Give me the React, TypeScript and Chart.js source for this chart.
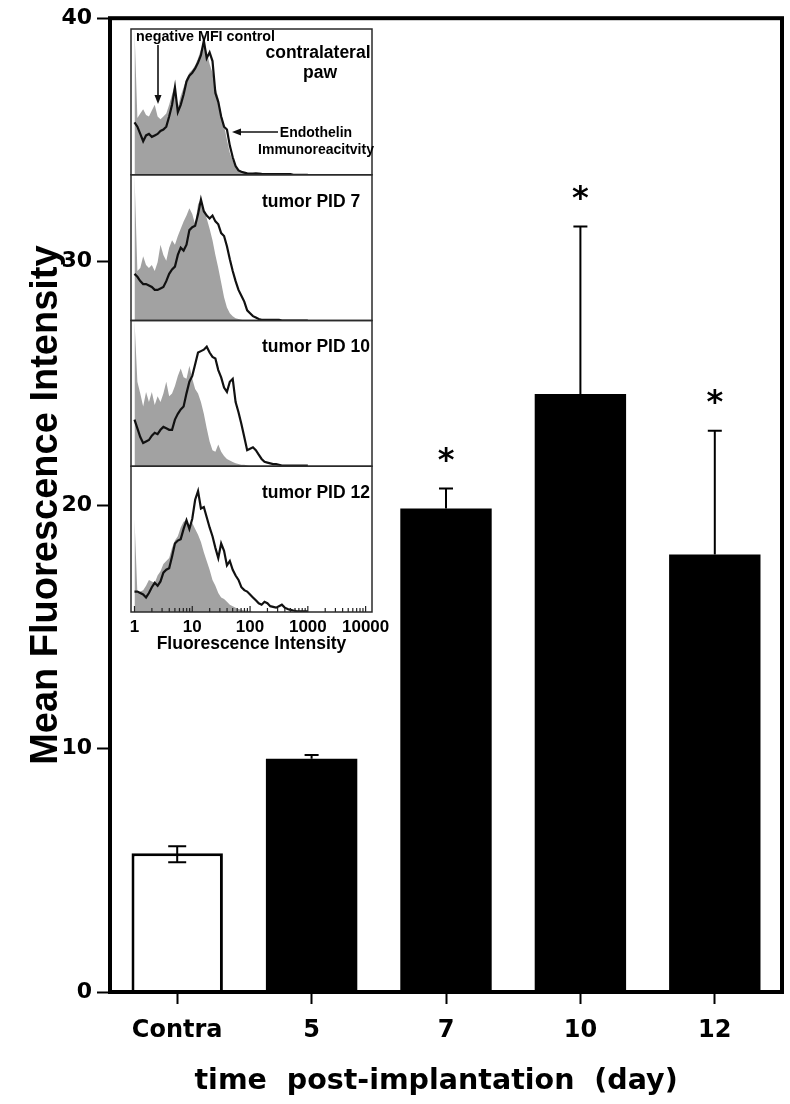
import React, { useEffect, useRef } from 'react';
import { Chart, registerables } from 'chart.js';

Chart.register(...registerables);

// ---------------- main bar chart data ----------------
const CATEGORIES = ['Contra', '5', '7', '10', '12'];
const MEAN_MFI = [5.7, 9.58, 19.86, 24.56, 17.97];
const ERR_UP = [0.29, 0.16, 0.82, 6.88, 5.08];
const ERR_DOWN = [0.37, 0, 0, 0, 0];
const SIGNIFICANT = [false, false, true, true, true];
const Y_TICKS = [0, 10, 20, 30, 40];
const Y_TITLE = 'Mean Fluorescence Intensity';
const X_TITLE = 'time  post-implantation  (day)  ';

// ---------------- inset histogram data ----------------
const INSET_DECADE_LABELS = ['1', '10', '100', '1000', '10000'];
const INSET_X_TITLE = 'Fluorescence Intensity';
const HIST_LOG_STEP = 0.05; // bins every 0.05 decade starting at intensity 1
const PANEL_NAMES = [['contralateral', 'paw'], ['tumor PID 7'], ['tumor PID 10'], ['tumor PID 12']];

// negative MFI control (grey filled histograms)
const CTRL_P1 = [100, 39, 42, 45, 41, 40, 44, 48, 40, 38, 40, 42, 48, 55, 62, 46, 54, 60, 66, 70, 72, 75, 80, 86, 90, 84, 76, 70, 60, 53, 42, 34, 24, 15, 10, 6, 3, 2, 1, 0.5, 0, 0, 0, 0, 0, 0, 0, 0, 0, 0, 0, 0, 0, 0, 0, 0, 0, 0, 0, 0, 0];
const CTRL_P2 = [100, 34, 36, 44, 38, 36, 38, 34, 40, 52, 45, 41, 50, 55, 52, 58, 63, 68, 72, 77, 73, 66, 80, 83, 76, 70, 63, 55, 45, 36, 26, 16, 9, 5, 3, 1.5, 1, 0.5, 0, 0, 0, 0, 0, 0, 0, 0, 0, 0, 0, 0, 0, 0, 0, 0, 0, 0, 0, 0, 0, 0, 0];
const CTRL_P3 = [100, 58, 50, 41, 51, 44, 51, 42, 48, 44, 50, 58, 48, 50, 55, 62, 67, 61, 60, 69, 60, 53, 50, 44, 36, 26, 17, 11, 10, 15, 10, 7, 5, 4, 3, 2, 1.5, 1, 1, 0.5, 0, 0, 0, 0, 0, 0, 0, 0, 0, 0, 0, 0, 0, 0, 0, 0, 0, 0, 0, 0, 0];
const CTRL_P4 = [64, 13, 14, 15, 18, 22, 21, 20, 25, 28, 33, 35, 37, 44, 49, 52, 58, 62, 63, 58, 61, 57, 53, 48, 41, 35, 29, 22, 18, 13, 10, 9, 7, 5, 4, 3, 2, 1.5, 1, 1, 0.5, 0, 0, 0, 0, 0, 0, 0, 0, 0, 0, 0, 0, 0, 0, 0, 0, 0, 0, 0, 0];

// endothelin immunoreactivity (black line histograms)
const ENDO_P1 = [36, 33, 28, 23, 27, 28, 26, 27, 28, 30, 31, 33, 40, 48, 60, 43, 48, 55, 64, 68, 70, 73, 77, 82, 92, 80, 84, 78, 56, 50, 40, 33, 31, 20, 12, 6, 3, 2, 1.5, 1, 0.8, 0.8, 1, 0.8, 0.6, 0.5, 0.5, 0.5, 0.5, 0.5, 0.5, 0.5, 0.5, 0.5, 0.5, 0, 0, 0, 0, 0, 0];
const ENDO_P2 = [32, 30, 27, 25, 25, 24, 23, 21, 21, 22, 23, 27, 32, 35, 37, 45, 50, 48, 52, 62, 64, 65, 73, 83, 75, 72, 70, 72, 68, 66, 60, 58, 51, 42, 34, 27, 21, 17, 13, 7, 5, 3, 2, 1, 0.5, 0.5, 0.5, 0.5, 0.5, 0.5, 0.5, 0, 0, 0, 0, 0, 0, 0, 0, 0, 0];
const ENDO_P3 = [32, 26, 20, 16, 17, 18, 21, 23, 22, 25, 27, 26, 25, 25, 32, 36, 39, 41, 50, 58, 62, 70, 78, 79, 80, 82, 78, 75, 74, 66, 61, 54, 51, 58, 60, 44, 37, 29, 20, 11, 12, 13, 11, 8, 5, 3, 2.5, 2, 1.5, 1.5, 1, 0.5, 0.5, 0.5, 0.5, 0.5, 0.5, 0.5, 0.5, 0.5, 0.5];
const ENDO_P4 = [14, 14, 13, 12, 10, 13, 17, 20, 18, 21, 27, 29, 30, 38, 47, 49, 50, 57, 63, 57, 64, 77, 83, 71, 72, 65, 58, 52, 44, 37, 47, 42, 32, 35, 29, 25, 22, 17, 15, 14, 12, 10, 8, 6, 5, 7, 6, 4, 3.5, 3, 4, 5, 3, 2, 1.5, 1, 0.7, 0.5, 0.5, 0.5, 0.5];

const CONTROL_SERIES = [CTRL_P1, CTRL_P2, CTRL_P3, CTRL_P4];
const ENDO_SERIES = [ENDO_P1, ENDO_P2, ENDO_P3, ENDO_P4];

const WIDE_BOLD = "'DejaVu Sans', sans-serif";
const HELV = "'Liberation Sans', Arial, sans-serif";

const toPoints = (arr: number[]) => arr.map((v, i) => ({ x: Math.pow(10, i * HIST_LOG_STEP), y: v }));

// ---------------- plugins ----------------
const framePlugin = {
  id: 'frame',
  afterDatasetsDraw(chart: any) {
    const { ctx, chartArea: a } = chart;
    ctx.save();
    ctx.strokeStyle = '#000';
    ctx.lineWidth = 4;
    ctx.strokeRect(a.left, a.top, a.right - a.left, a.bottom - a.top);
    ctx.restore();
  },
};

const errorBarPlugin = {
  id: 'errorBars',
  afterDatasetsDraw(chart: any) {
    const { ctx } = chart;
    const yScale = chart.scales.y;
    const meta = chart.getDatasetMeta(0);
    ctx.save();
    ctx.strokeStyle = '#000';
    ctx.fillStyle = '#000';
    ctx.lineWidth = 2;
    meta.data.forEach((bar: any, i: number) => {
      const x = bar.x;
      const yTop = yScale.getPixelForValue(MEAN_MFI[i] + ERR_UP[i]);
      const yBot = yScale.getPixelForValue(MEAN_MFI[i] - ERR_DOWN[i]);
      const cap = i === 0 ? 9 : 7;
      ctx.beginPath();
      ctx.moveTo(x, yTop);
      ctx.lineTo(x, yBot);
      ctx.moveTo(x - cap, yTop);
      ctx.lineTo(x + cap, yTop);
      if (ERR_DOWN[i] > 0) {
        ctx.moveTo(x - cap, yBot);
        ctx.lineTo(x + cap, yBot);
      }
      ctx.stroke();
      if (SIGNIFICANT[i]) {
        const size = 32;
        ctx.font = `bold ${size}px ${WIDE_BOLD}`;
        ctx.textAlign = 'center';
        ctx.textBaseline = 'alphabetic';
        ctx.fillText('*', x, yTop - 37 + 0.58 * size);
      }
    });
    ctx.restore();
  },
};

function drawArrow(ctx: CanvasRenderingContext2D, x1: number, y1: number, x2: number, y2: number) {
  const head = 9;
  const hw = 3.5;
  const a = Math.atan2(y2 - y1, x2 - x1);
  const bx = x2 - head * Math.cos(a);
  const by = y2 - head * Math.sin(a);
  ctx.beginPath();
  ctx.moveTo(x1, y1);
  ctx.lineTo(bx, by);
  ctx.stroke();
  ctx.beginPath();
  ctx.moveTo(x2, y2);
  ctx.lineTo(bx + hw * Math.sin(a), by - hw * Math.cos(a));
  ctx.lineTo(bx - hw * Math.sin(a), by + hw * Math.cos(a));
  ctx.closePath();
  ctx.fill();
}

const insetDecorPlugin = {
  id: 'insetDecor',
  afterDraw(chart: any) {
    const { ctx, chartArea: a } = chart;
    const L = a.left;
    const R = a.right;
    ctx.save();
    // inward tick marks on the shared log axis
    const xs = chart.scales.x;
    ctx.strokeStyle = '#222';
    ctx.lineWidth = 1.2;
    xs.ticks.forEach((t: any) => {
      const v = t.value;
      if (v < 0.999 || v > 10001) return;
      const e = Math.floor(Math.log10(v) + 1e-9);
      const sig = v / Math.pow(10, e);
      if (Math.abs(sig - Math.round(sig)) > 1e-6) return;
      const px = xs.getPixelForValue(v);
      ctx.beginPath();
      ctx.moveTo(px, a.bottom);
      ctx.lineTo(px, a.bottom - (Math.round(sig) === 1 ? 6 : 4));
      ctx.stroke();
    });
    // panel frames and labels
    ctx.strokeStyle = '#2a2a2a';
    ctx.lineWidth = 1.5;
    ctx.fillStyle = '#000';
    PANEL_NAMES.forEach((names, k) => {
      const s = chart.scales['p' + k];
      ctx.strokeRect(L, s.top, R - L, s.bottom - s.top);
      ctx.font = `bold 17.5px ${HELV}`;
      ctx.textBaseline = 'middle';
      if (k === 0) {
        ctx.textAlign = 'center';
        ctx.fillText(names[0], L + 187, s.top + 24);
        ctx.fillText(names[1], L + 189, s.top + 44);
      } else {
        ctx.textAlign = 'left';
        ctx.fillText(names[0], L + 131, s.top + 27);
      }
    });
    const top = chart.scales.p0.top;
    ctx.font = `bold 14.3px ${HELV}`;
    ctx.textAlign = 'left';
    ctx.fillText('negative MFI control', L + 5, top + 8.5);
    ctx.font = `bold 14px ${HELV}`;
    ctx.textAlign = 'center';
    ctx.fillText('Endothelin', L + 185, top + 104);
    ctx.fillText('Immunoreacitvity', L + 185, top + 121);
    ctx.strokeStyle = '#111';
    ctx.fillStyle = '#111';
    ctx.lineWidth = 1.6;
    drawArrow(ctx, L + 27, top + 16, L + 27, top + 75);
    drawArrow(ctx, L + 147, top + 103, L + 101, top + 103);
    ctx.restore();
  },
};

export default function App() {
  const mainRef = useRef<HTMLCanvasElement>(null);
  const insetRef = useRef<HTMLCanvasElement>(null);

  useEffect(() => {
    const mainChart = new Chart(mainRef.current as HTMLCanvasElement, {
      type: 'bar',
      data: {
        labels: CATEGORIES,
        datasets: [
          {
            data: MEAN_MFI,
            backgroundColor: CATEGORIES.map((_, i) => (i === 0 ? '#ffffff' : '#000000')),
            borderColor: '#000000',
            borderWidth: CATEGORIES.map((_, i) => (i === 0 ? 3 : 0)),
            barPercentage: 0.68,
            categoryPercentage: 1,
          },
        ],
      },
      options: {
        responsive: false,
        animation: false,
        devicePixelRatio: 1,
        events: [],
        layout: { padding: { left: 0, right: 8, top: 15, bottom: 0 } },
        plugins: { legend: { display: false }, tooltip: { enabled: false } },
        scales: {
          x: {
            grid: { display: true, drawOnChartArea: false, offset: false, tickLength: 12, tickWidth: 2, tickColor: '#000' },
            border: { display: false },
            ticks: { color: '#000', font: { family: WIDE_BOLD, weight: 'bold', size: 24 }, padding: 12, maxRotation: 0 },
            title: {
              display: true,
              text: X_TITLE,
              color: '#000',
              font: { family: WIDE_BOLD, weight: 'bold', size: 28.5 },
              padding: { top: 0, bottom: 5 },
            },
            afterFit: (s: any) => {
              s.height = 112;
            },
          },
          y: {
            min: 0,
            max: 40,
            afterBuildTicks: (s: any) => {
              s.ticks = Y_TICKS.map((v) => ({ value: v }));
            },
            grid: { drawOnChartArea: false, tickLength: 13, tickWidth: 2, tickColor: '#000' },
            border: { display: false },
            ticks: { color: '#000', font: { family: WIDE_BOLD, weight: 'bold', size: 22 }, padding: 5 },
            title: {
              display: true,
              text: Y_TITLE,
              color: '#000',
              font: { family: HELV, weight: 'bold', size: 38 },
              padding: { top: 24, bottom: 0 },
            },
            afterFit: (s: any) => {
              s.width = 110;
            },
          },
        },
      } as any,
      plugins: [framePlugin, errorBarPlugin],
    });

    const insetCanvas = insetRef.current as HTMLCanvasElement;
    const datasets: any[] = [];
    const yScales: any = {};
    PANEL_NAMES.forEach((_, k) => {
      const id = 'p' + k;
      datasets.push({
        data: toPoints(ENDO_SERIES[k]),
        yAxisID: id,
        borderColor: '#111',
        borderWidth: 2.2,
        pointRadius: 0,
        fill: false,
        tension: 0,
        order: 0,
      });
      datasets.push({
        data: toPoints(CONTROL_SERIES[k]),
        yAxisID: id,
        borderWidth: 0,
        borderColor: 'rgba(0,0,0,0)',
        backgroundColor: '#a2a2a2',
        fill: 'origin',
        tension: 0,
        pointRadius: 0,
        order: 1,
      });
      yScales[id] = {
        type: 'linear',
        min: 0,
        max: 100,
        display: false,
        position: 'left',
        stack: 'panels',
        stackWeight: 1,
        weight: 4 - k,
      };
    });

    const insetChart = new Chart(insetCanvas, {
      type: 'line',
      data: { datasets },
      options: {
        responsive: false,
        animation: false,
        devicePixelRatio: 1,
        events: [],
        layout: { padding: { left: 2, right: 24, top: 2, bottom: 0 } },
        plugins: { legend: { display: false }, tooltip: { enabled: false } },
        scales: {
          x: {
            type: 'logarithmic',
            min: 0.87,
            max: 12900,
            grid: { display: false, drawTicks: false },
            border: { display: false },
            ticks: {
              autoSkip: false,
              maxRotation: 0,
              padding: 5,
              color: '#000',
              font: { family: HELV, weight: 'bold', size: 17 },
              callback: (v: any) => {
                const l = Math.log10(Number(v));
                const r = Math.round(l);
                return Math.abs(l - r) < 1e-6 && INSET_DECADE_LABELS[r] !== undefined ? INSET_DECADE_LABELS[r] : '';
              },
            },
            title: {
              display: true,
              text: INSET_X_TITLE,
              color: '#000',
              font: { family: HELV, weight: 'bold', size: 17.5 },
              padding: { top: 0, bottom: 4.5 },
            },
            afterFit: (s: any) => {
              s.height = 47;
            },
          },
          ...yScales,
        },
      } as any,
      plugins: [insetDecorPlugin],
    });

    return () => {
      mainChart.destroy();
      insetChart.destroy();
    };
  }, []);

  return (
    <div style={{ position: 'absolute', left: 0, top: 0, width: 790, height: 1104, background: '#fff', overflow: 'hidden' }}>
      <canvas ref={mainRef} width={790} height={1104} style={{ position: 'absolute', left: 0, top: 0 }} />
      <canvas ref={insetRef} width={270} height={632} style={{ position: 'absolute', left: 126, top: 27 }} />
    </div>
  );
}
